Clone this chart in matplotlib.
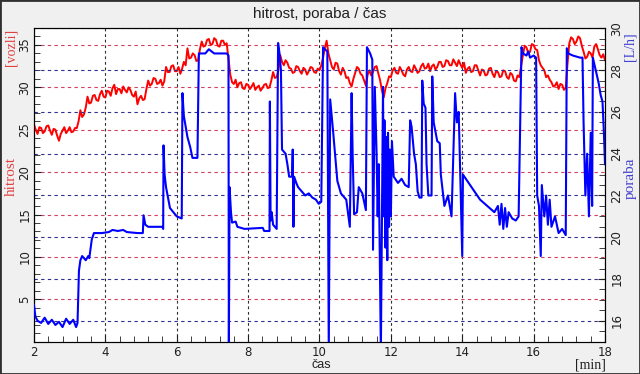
import numpy as np
import matplotlib.pyplot as plt
from matplotlib.patches import Rectangle
from matplotlib.ticker import MultipleLocator

# === Data ===
# hitrost [vozli], sampled every 0.05 min from 2 to 18 min
red_t0, red_dt = 2.0, 0.05
hitrost = [
    # 2.00 - 3.15
    25.6, 25.0, 24.5, 25.3, 25.2, 24.6, 24.8, 25.4, 25.5, 24.9, 24.4, 25.1,
    25.0, 24.3, 23.7, 24.5, 24.9, 25.3, 24.6, 24.9, 25.3, 24.7, 24.8, 25.2,
    # 3.20 - 3.95
    25.2, 26.0, 27.3, 26.5, 26.8, 27.6, 28.9, 28.1, 28.2, 29.0, 29.1, 28.5, 28.4, 29.2, 29.6, 28.9,
    # 4.00 - 4.95
    28.8, 29.6, 29.5, 29.0, 29.9, 30.3, 29.2, 29.8, 29.8, 29.3,
    30.1, 29.7, 29.4, 30.0, 29.7, 29.1, 28.9, 29.5, 28.0, 28.7,
    # 5.00 - 5.95
    29.0, 28.5, 28.6, 29.8, 30.8, 30.2, 30.4, 31.1, 31.0, 30.4,
    30.5, 30.9, 30.2, 30.7, 32.4, 31.8, 31.8, 32.5, 32.6, 31.9,
    # 6.00 - 6.95
    31.9, 32.4, 31.6, 32.2, 33.0, 32.6, 34.6, 33.4, 33.5, 34.0,
    33.8, 33.1, 33.2, 34.5, 35.4, 34.8, 34.9, 35.6, 35.7, 35.0,
    # 7.00 - 7.95
    35.1, 35.8, 35.6, 34.9, 34.8, 35.5, 35.5, 35.0, 35.2, 33.4,
    31.5, 30.6, 30.4, 30.9, 30.0, 30.5, 30.6, 29.9, 29.8, 30.4,
    # 8.00 - 8.95
    30.3, 29.8, 30.1, 30.5, 29.7, 30.0, 30.2, 29.6, 29.9, 30.3,
    30.4, 29.9, 30.0, 30.8, 31.8, 31.1, 31.2, 32.0, 33.8, 33.0,
    # 9.00 - 9.95
    32.6, 33.2, 32.9, 32.3, 32.2, 31.7, 31.8, 32.5, 32.4, 31.9,
    31.6, 32.3, 32.1, 31.5, 31.9, 32.4, 32.3, 31.8, 31.7, 32.2,
    # 10.00 - 10.95
    32.0, 32.6, 33.5, 34.6, 35.5, 34.0, 33.2, 32.4, 32.1, 32.9,
    32.8, 31.9, 31.5, 32.3, 31.9, 31.1, 31.2, 30.5, 30.1, 31.0,
    # 11.00 - 11.95
    31.7, 32.4, 32.2, 31.6, 31.4, 30.8, 30.2, 31.5, 32.0, 31.4,
    31.8, 32.4, 32.5, 31.6, 30.8, 29.6, 28.8, 29.9, 30.5, 31.3,
    # 12.00 - 12.95
    31.2, 32.0, 32.3, 31.7, 31.6, 32.4, 32.0, 31.5, 31.3, 32.1,
    32.4, 31.9, 31.8, 32.6, 32.2, 31.7, 31.9, 32.5, 32.8, 32.2,
    # 13.00 - 13.95
    32.3, 32.8, 31.9, 32.5, 32.7, 32.1, 32.4, 33.0, 33.0, 32.4,
    32.5, 33.2, 33.1, 32.6, 32.6, 33.3, 32.9, 32.5, 33.2, 32.7,
    # 14.00 - 14.95
    32.3, 32.9, 31.7, 32.2, 32.4, 31.8, 31.9, 32.6, 32.6, 32.0,
    31.4, 32.1, 32.0, 31.4, 31.5, 32.2, 32.3, 31.6, 31.2, 31.9,
    # 15.00 - 15.95
    31.8, 31.2, 31.3, 32.0, 31.9, 31.2, 31.0, 31.7, 31.5, 30.8,
    30.7, 31.4, 31.2, 32.5, 33.8, 34.9, 34.7, 34.0, 34.2, 35.1,
    # 16.00 - 16.95
    35.0, 34.5, 34.4, 33.2, 32.6, 32.3, 32.0, 31.2, 31.4, 30.9,
    30.6, 30.1, 30.2, 30.6, 29.8, 30.4, 30.3, 29.7, 29.9, 32.8,
    # 17.00 - 18.00
    35.2, 35.9, 35.7, 35.1, 35.4, 36.0, 35.8, 34.9, 34.2, 33.4,
    33.6, 34.2, 34.0, 33.5, 34.8, 35.1, 34.5, 33.8, 33.5, 33.9, 33.2,
]

# poraba [L/h], (time, value) pairs
poraba_t = [
    2.00, 2.04, 2.10, 2.20, 2.30, 2.40, 2.50, 2.60, 2.70, 2.80, 2.90, 3.00, 3.10, 3.18, 3.22,
    3.26, 3.30, 3.35, 3.45, 3.52, 3.55, 3.62, 3.68, 3.90, 4.10, 4.20, 4.35, 4.50, 4.60, 4.90, 5.05,
    5.07, 5.12, 5.20, 5.60, 5.62, 5.63, 5.66, 5.70, 5.81, 6.00, 6.14,
    6.16, 6.20, 6.30, 6.38, 6.44, 6.58, 6.62, 6.80, 6.90, 7.05, 7.40, 7.45,
    7.46, 7.48, 7.52, 7.55, 7.65, 7.70, 7.90, 8.41, 8.45, 8.60,
    8.61, 8.63, 8.66, 8.70, 8.80, 8.84, 8.88, 8.92, 8.95, 9.05, 9.10, 9.15,
    9.23, 9.25, 9.27, 9.29, 9.35, 9.40, 9.50, 9.60, 9.70, 9.80, 9.90, 9.98, 10.05,
    10.10, 10.15, 10.22, 10.26, 10.30, 10.38, 10.50, 10.60, 10.75, 10.85,
    10.90, 10.93, 10.97, 11.05, 11.10, 11.20, 11.30,
    11.33, 11.42, 11.48, 11.50, 11.55, 11.60, 11.63, 11.66,
    11.72, 11.78, 11.80, 11.82, 11.85, 11.87, 11.90, 11.92, 11.95, 11.97, 12.00, 12.03,
    12.08, 12.20, 12.30, 12.40, 12.50, 12.54, 12.58, 12.65, 12.70, 12.75, 12.80,
    12.86, 12.88, 12.92, 12.97, 13.00, 13.05, 13.14, 13.16, 13.20, 13.30, 13.37,
    13.40, 13.50, 13.60, 13.70, 13.80, 13.85, 13.90, 13.93,
    14.00, 14.02, 14.10, 14.30, 14.50, 14.70, 14.90,
    15.00, 15.05, 15.10, 15.15, 15.20, 15.25, 15.30, 15.40, 15.50, 15.58,
    15.66, 15.70, 15.80, 15.85, 15.90, 16.00, 16.07,
    16.10, 16.15, 16.20, 16.23, 16.30, 16.35, 16.40, 16.45, 16.50, 16.60, 16.70, 16.80, 16.90,
    16.93, 16.97, 17.10, 17.30, 17.37,
    17.40, 17.45, 17.50, 17.55, 17.60, 17.64,
    17.66, 17.70, 17.78, 17.82, 17.88, 17.93, 17.97, 18.00,
]
poraba = [
    16.75, 16.2, 16.0, 15.9, 16.15, 15.85, 16.05, 15.8, 15.95, 15.7, 16.1, 15.85, 16.05, 15.7, 15.9,
    18.4, 18.9, 19.1, 18.9, 19.1, 19.0, 19.9, 20.2, 20.2, 20.25, 20.35, 20.3, 20.35, 20.25, 20.2, 20.2,
    21.05, 20.6, 20.5, 20.5, 20.4, 24.4, 23.0, 22.4, 21.4, 21.0, 20.9,
    26.9, 25.8, 24.8, 24.3, 23.8, 23.8, 28.8, 28.8, 29.0, 28.8, 28.8, 28.7,
    14.5, 22.4, 21.2, 20.7, 20.75, 20.5, 20.4, 20.45, 20.3, 20.3,
    26.5, 20.8, 21.2, 20.6, 20.4, 29.3, 28.8, 28.0, 24.2, 24.0, 23.5, 22.9,
    22.9, 24.2, 20.5, 22.9, 22.6, 22.4, 22.2, 22.0, 22.1, 21.9, 21.8, 21.6, 21.7,
    29.1, 29.0, 28.9, 14.5, 26.6, 25.1, 22.7, 22.1, 21.8, 20.5,
    26.9, 23.9, 21.1, 21.2, 22.4, 22.1, 21.3,
    29.1, 28.8, 28.5, 19.4, 27.2, 24.0, 21.0, 23.5,
    14.5, 27.2, 21.0, 25.6, 19.5, 24.8, 18.9, 25.0, 20.5, 24.2, 21.0, 24.6,
    22.9, 22.6, 22.8, 22.5, 22.4, 25.6, 25.3, 24.0, 23.5, 22.2, 21.9,
    21.9, 27.5, 26.4, 26.2, 23.5, 22.0, 22.0, 27.7, 25.5, 24.6, 24.5,
    23.0, 21.5, 22.0, 21.0, 26.9, 25.5, 26.0, 24.0,
    19.1, 23.0, 22.8, 22.3, 21.8, 21.5, 21.2,
    21.5, 20.6, 21.6, 20.4, 21.4, 20.5, 21.2, 20.9, 20.8, 21.0,
    29.1, 28.8, 28.7, 28.9, 28.6, 28.7, 28.6,
    22.0, 21.5, 19.1, 22.5, 21.0, 22.0, 20.6, 21.8, 20.5, 21.0, 20.2, 20.4, 20.1,
    29.05, 28.8, 28.7, 28.6, 28.6,
    25.5, 22.0, 24.0, 21.0, 25.0, 21.5,
    28.6, 28.3, 27.7, 27.4, 26.8, 26.5, 25.0, 23.5,
]

red_time = red_t0 + red_dt * np.arange(len(hitrost))

# === Figure ===
fig = plt.figure(figsize=(6.4, 3.74), dpi=100, facecolor='#f0f0f0')
fig.patches.append(Rectangle((0, 0), 1, 1, transform=fig.transFigure, fill=False,
                             edgecolor='#303030', linewidth=2))
ax = fig.add_axes([0.0531, 0.0864, 0.8922, 0.8388])
ax2 = ax.twinx()

ax.set_facecolor('white')
ax.set_xlim(2, 18)
ax.set_ylim(0, 37)
ax2.set_ylim(15, 30.02)

# gridlines: red for left scale, blue for right scale, black for time
ax.set_axisbelow(True)
ax2.set_axisbelow(True)
ax.grid(True, axis='x', color='#303030', linestyle=(0, (2.5, 2.5)), linewidth=0.8)
ax.grid(True, axis='y', color='#d04060', linestyle=(0, (3, 3)), linewidth=0.8)
ax2.grid(True, axis='y', color='#303090', linestyle=(0, (3, 3)), linewidth=0.8)

ax.plot(red_time, hitrost, color='#ff0000', linewidth=1.4, zorder=3)
ax2.plot(poraba_t, poraba, color='#0000ff', linewidth=1.5, zorder=4)
ax2.set_zorder(ax.get_zorder() + 1)
ax2.patch.set_visible(False)

# ticks
ax.xaxis.set_major_locator(MultipleLocator(2))
ax.xaxis.set_minor_locator(MultipleLocator(0.4))
ax.yaxis.set_minor_locator(MultipleLocator(1))
ax2.yaxis.set_minor_locator(MultipleLocator(0.5))
ax.set_yticks([5, 10, 15, 20, 25, 30, 35])
ax2.set_yticks([16, 18, 20, 22, 24, 26, 28, 30])

for a in (ax, ax2):
    a.tick_params(which='both', direction='in', colors='#202020', labelsize=8.5)
    a.tick_params(which='major', length=5)
    a.tick_params(which='minor', length=4)
ax.tick_params(axis='x', which='both', top=False, pad=3)
ax.tick_params(axis='y', which='both', right=False, labelrotation=90, pad=2)
ax2.tick_params(axis='y', which='both', labelrotation=90, pad=4)
for lbl in ax.get_yticklabels() + ax2.get_yticklabels():
    lbl.set_va('center')
for s in ax.spines.values():
    s.set_color('#202020')

# texts
fig.text(0.5, 1 - 14 / 374, 'hitrost, poraba / čas', ha='center', va='center',
         fontsize=11, family='Liberation Sans', color='#202020')
fig.text(321 / 640, 1 - 365 / 374, 'čas', ha='center', va='center',
         fontsize=9, family='Liberation Sans', color='#202020')
fig.text(590 / 640, 1 - 365 / 374, '[min]', ha='center', va='center',
         fontsize=10, family='Liberation Serif', color='#202020')
fig.text(11 / 640, 1 - 47 / 374, '[vozli]', ha='center', va='center', rotation=90,
         fontsize=10, family='Liberation Serif', color='#e04040')
fig.text(11 / 640, 1 - 177 / 374, 'hitrost', ha='center', va='center', rotation=90,
         fontsize=11, family='Liberation Serif', color='#e04040')
fig.text(630 / 640, 1 - 47 / 374, '[L/h]', ha='center', va='center', rotation=90,
         fontsize=10, family='Liberation Serif', color='#4040d0')
fig.text(630 / 640, 1 - 178 / 374, 'poraba', ha='center', va='center', rotation=90,
         fontsize=11, family='Liberation Serif', color='#4040d0')

fig.savefig('out.png', dpi=100, facecolor=fig.get_facecolor())
